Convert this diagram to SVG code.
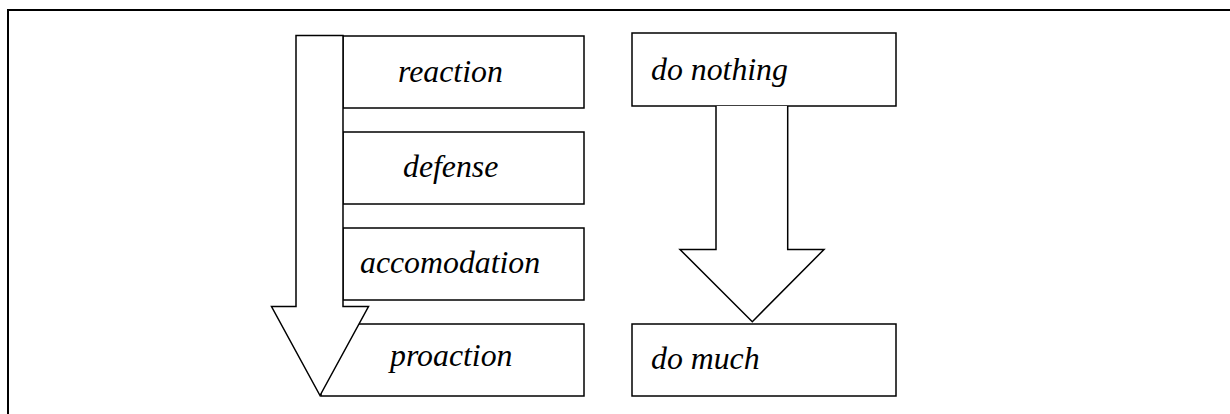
<svg xmlns="http://www.w3.org/2000/svg" width="1230" height="414" viewBox="0 0 1230 414">
<style>
.box{fill:#fff;stroke:#000;stroke-width:1.5}
.arr{fill:#fff;stroke:#000;stroke-width:1.5;stroke-linejoin:miter}
.lbl{font-family:"Liberation Serif","Times New Roman",serif;font-style:italic;font-size:31.8px;fill:#000}
.frame{fill:none;stroke:#000;stroke-width:2}
</style>
<rect width="1230" height="414" fill="#fff"/>
<g id="frame"><path class="frame" d="M8,414 V10 H1230"/></g>
<g id="n-reaction"><rect class="box" x="343" y="36" width="241" height="72"/><text class="lbl" x="398" y="82">reaction</text></g>
<g id="n-defense"><rect class="box" x="343" y="132" width="241" height="72"/><text class="lbl" x="403" y="177">defense</text></g>
<g id="n-accomodation"><rect class="box" x="343" y="228" width="241" height="72"/><text class="lbl" x="360" y="273">accomodation</text></g>
<g id="n-proaction"><rect class="box" x="321" y="324" width="263" height="72"/><text class="lbl" x="390" y="366">proaction</text></g>
<g id="n-donothing"><rect class="box" x="632" y="33" width="264" height="73"/><text class="lbl" x="651" y="80">do nothing</text></g>
<g id="n-domuch"><rect class="box" x="632" y="324" width="264" height="72"/><text class="lbl" x="651" y="369">do much</text></g>
<g id="connectors">
<path class="arr" d="M296,35.5 H343 V306.5 H368.5 L320,395.5 L271.5,306.5 H296 Z"/>
<path class="arr" d="M716,106 V249.5 H680 L752.3,321.7 L824,249.5 H787.7 V106"/>
</g>
</svg>
